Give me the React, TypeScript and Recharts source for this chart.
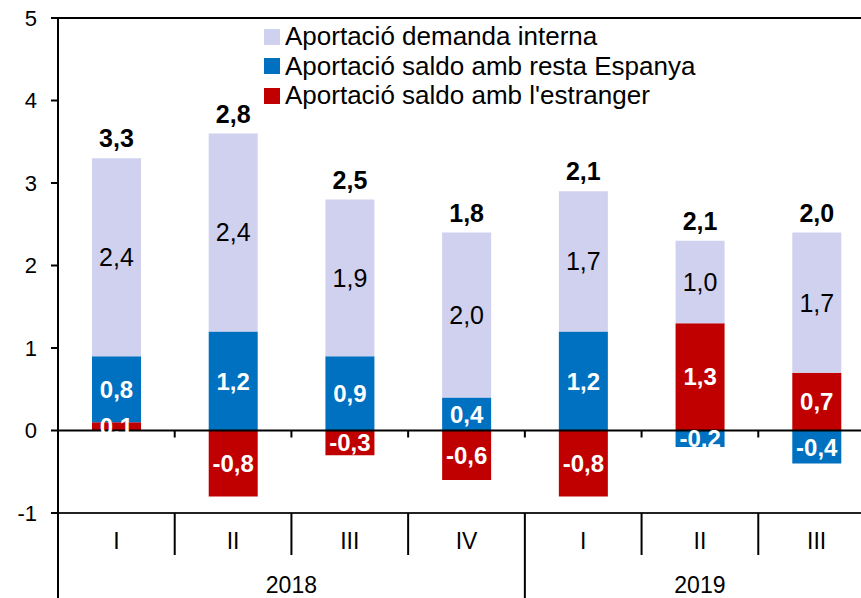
import { BarChart, Bar, XAxis, YAxis, ReferenceLine, LabelList, Legend } from "recharts";

const quarters = ["I", "II", "III", "IV", "I", "II", "III"];
const years = ["2018", "2019"];
const quartersPerYear = [4, 3];
const demandaInterna = [2.4, 2.4, 1.9, 2.0, 1.7, 1.0, 1.7];
const saldoEspanya = [0.8, 1.2, 0.9, 0.4, 1.2, -0.2, -0.4];
const saldoEstranger = [0.1, -0.8, -0.3, -0.6, -0.8, 1.3, 0.7];
const totals = [3.3, 2.8, 2.5, 1.8, 2.1, 2.1, 2.0];
const yTicks = [-1, 0, 1, 2, 3, 4, 5];
const legendOrder = ["interna", "espanya", "estranger"];

const FONT = "'Liberation Sans', Arial, sans-serif";
const C_INTERNA = "#D0D0EF";
const C_ESPANYA = "#0070C0";
const C_ESTRANGER = "#C00000";

const data = quarters.map((q, i) => ({
  key: `${q}-${i}`,
  interna: demandaInterna[i],
  espanya: saldoEspanya[i],
  estranger: saldoEstranger[i],
  total: totals[i],
}));

const fmt = (v: unknown) => Number(v).toFixed(1).replace(".", ",");

// year start indices, e.g. [0, 4]
const yearStarts = quartersPerYear.map((_, k) => quartersPerYear.slice(0, k).reduce((a, b) => a + b, 0));

function QuarterTick(props: any) {
  const { x, y, index } = props;
  return (
    <text x={x} y={y} dy={36} textAnchor="middle" fontSize={23} fontFamily={FONT} fill="#000">
      {quarters[index]}
    </text>
  );
}

function BottomAxis(props: any) {
  const { x1, x2, y1 } = props;
  const n = quarters.length;
  const bw = (x2 - x1) / n;
  const lines = [];
  for (let i = 0; i <= n; i++) {
    const bx = x1 + i * bw;
    const long = yearStarts.includes(i);
    lines.push(<line key={i} x1={bx} x2={bx} y1={y1} y2={y1 + (long ? 90 : 42)} stroke="#000" strokeWidth={2} />);
  }
  return (
    <g>
      <line x1={x1} x2={x2} y1={y1} y2={y1} stroke="#222" strokeWidth={2} />
      {lines}
      {years.map((yr, k) => (
        <text
          key={yr}
          x={x1 + (yearStarts[k] + quartersPerYear[k] / 2) * bw}
          y={y1 + 80}
          textAnchor="middle"
          fontSize={23}
          fontFamily={FONT}
          fill="#000"
        >
          {yr}
        </text>
      ))}
    </g>
  );
}

function ZeroLine(props: any) {
  const { x1, x2, y1 } = props;
  const n = quarters.length;
  const bw = (x2 - x1) / n;
  return (
    <g>
      <line x1={x1} x2={x2} y1={y1} y2={y1} stroke="#000" strokeWidth={2} />
      {quarters.slice(1).map((_, i) => (
        <line key={i} x1={x1 + (i + 1) * bw} x2={x1 + (i + 1) * bw} y1={y1} y2={y1 + 7} stroke="#000" strokeWidth={2} />
      ))}
    </g>
  );
}

function TotalLabel(props: any) {
  const vb = props.viewBox ?? props;
  const x = vb.x + vb.width / 2;
  const y = Math.min(vb.y, vb.y + vb.height);
  return (
    <text x={x} y={y - 11} textAnchor="middle" fontSize={25} fontWeight="bold" fontFamily={FONT} fill="#000">
      {fmt(props.value)}
    </text>
  );
}

function LegendBox(props: any) {
  const items = [...(props.payload ?? [])].sort(
    (a: any, b: any) => legendOrder.indexOf(a.dataKey) - legendOrder.indexOf(b.dataKey)
  );
  return (
    <div style={{ fontFamily: FONT, fontSize: 26, color: "#000" }}>
      {items.map((it: any) => (
        <div key={it.value} style={{ display: "flex", alignItems: "center", height: 29.5, whiteSpace: "nowrap" }}>
          <span style={{ width: 16, height: 16, background: it.color, marginRight: 5, display: "inline-block" }} />
          {it.value}
        </div>
      ))}
    </div>
  );
}

const whiteLabel = { fill: "#fff", fontSize: 24, fontWeight: "bold", fontFamily: FONT };

export default function App() {
  return (
    <div style={{ position: "absolute", left: 0, top: 0, width: 861, height: 598, overflow: "hidden", background: "#fff" }}>
      <BarChart
        width={880}
        height={598}
        data={data}
        stackOffset="sign"
        margin={{ top: 18, right: 5, bottom: 0, left: 0 }}
        barSize={49}
      >
        <XAxis
          dataKey="key"
          height={85}
          axisLine={false}
          tickLine={false}
          tickSize={0}
          tickMargin={0}
          interval={0}
          tick={<QuarterTick />}
        />
        <YAxis
          domain={[-1, 5]}
          ticks={yTicks}
          width={58}
          axisLine={{ stroke: "#000", strokeWidth: 2 }}
          tickLine={{ stroke: "#000", strokeWidth: 2 }}
          tickSize={7}
          tickMargin={14}
          tick={{ fill: "#000", fontSize: 22, fontFamily: FONT }}
        />
        <Legend
          layout="vertical"
          align="center"
          verticalAlign="middle"
          wrapperStyle={{ top: 22, left: 264, width: "auto" }}
          content={<LegendBox />}
        />
        <Bar dataKey="estranger" name="Aportació saldo amb l'estranger" stackId="a" fill={C_ESTRANGER} isAnimationActive={false}>
          <LabelList dataKey="estranger" position="center" formatter={fmt} style={whiteLabel} />
        </Bar>
        <Bar dataKey="espanya" name="Aportació saldo amb resta Espanya" stackId="a" fill={C_ESPANYA} isAnimationActive={false}>
          <LabelList dataKey="espanya" position="center" formatter={fmt} style={whiteLabel} />
        </Bar>
        <Bar dataKey="interna" name="Aportació demanda interna" stackId="a" fill={C_INTERNA} isAnimationActive={false}>
          <LabelList
            dataKey="interna"
            position="center"
            formatter={fmt}
            style={{ fill: "#000", fontSize: 25, fontFamily: FONT }}
          />
          <LabelList dataKey="total" content={<TotalLabel />} />
        </Bar>
        <ReferenceLine y={5} stroke="#000" strokeWidth={2} />
        <ReferenceLine y={0} shape={(p: any) => <ZeroLine {...p} />} />
        <ReferenceLine y={-1} shape={(p: any) => <BottomAxis {...p} />} />
      </BarChart>
    </div>
  );
}
